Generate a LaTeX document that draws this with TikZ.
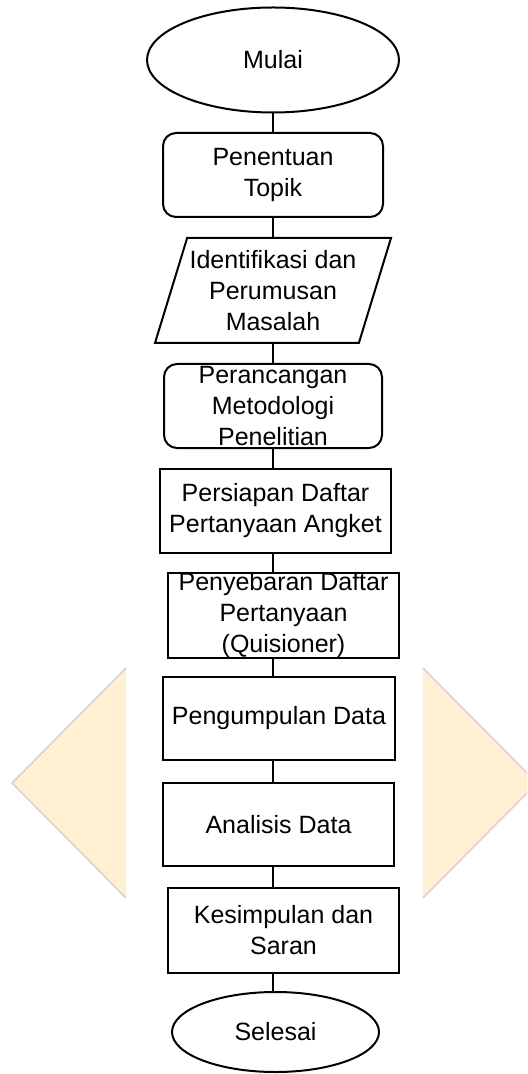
\documentclass[tikz,border=0pt]{standalone}
\usepackage{fontspec}
\setmainfont{Liberation Sans}
\usetikzlibrary{shapes.geometric}
\definecolor{wmfill}{RGB}{255,240,212}
\definecolor{wmedge}{RGB}{214,210,206}

\begin{document}
\begin{tikzpicture}[x = .5pt, y = -.5pt, line width = 1pt]
		\tikzstyle{every node} = [font = \fontsize{12.5}{15.5}\selectfont, align = center, inner sep = 0pt]
		\tikzstyle{terminal} = [draw, ellipse]
		\tikzstyle{roundbox} = [draw, rectangle, rounded corners = 6.5pt, minimum width = 110pt, minimum height = 42pt]
		\tikzstyle{plainbox} = [draw, rectangle, minimum width = 115.5pt, minimum height = 42pt]
		\tikzstyle{iobox} = [draw, trapezium, trapezium left angle = 68.2, trapezium right angle = 111.8, trapezium stretches body, minimum width = 118pt, minimum height = 52.5pt]

		\useasboundingbox (0,0) rectangle (527,1074);

		% watermark
		\begin{scope}
			\clip (0,0) rectangle (527,1074);
			\fill [wmfill] (126,668) -- (12,783) -- (126,898) -- cycle;
			\draw [wmedge, line width = .75pt] (126,668) -- (12,783) -- (126,898);
			\fill [wmfill] (423,668) -- (537,783) -- (423,898) -- cycle;
			\draw [wmedge, line width = .75pt] (423,668) -- (537,783) -- (423,898);
		\end{scope}

		\node [terminal, minimum width = 126pt, minimum height = 52.5pt] (mulai) at (273,60) {Mulai};
		\node [roundbox] (topik) at (273,175) {Penentuan\\Topik};
		\node [iobox] (masalah) at (273,290.5) {Identifikasi dan\\Perumusan\\Masalah};
		\node [roundbox, minimum width = 109pt] (metode) at (273,406) {Perancangan\\Metodologi\\Penelitian};
		\node [plainbox] (angket) at (275.5,511) {Persiapan Daftar\\Pertanyaan Angket};
		\node [plainbox, minimum height = 42.5pt] (sebar) at (283.5,615.5) {Penyebaran Daftar\\Pertanyaan\\(Quisioner)};
		\node [plainbox, minimum width = 116pt, minimum height = 41.5pt] (kumpul) at (279,718.5) {Pengumpulan Data};
		\node [plainbox, minimum height = 41.5pt] (analisis) at (278.5,824.5) {Analisis Data};
		\node [plainbox, minimum height = 42.5pt] (simpul) at (283.5,930.5) {Kesimpulan dan\\Saran};
		\node [terminal, minimum width = 103.5pt, minimum height = 40pt] (selesai) at (275.5,1032) {Selesai};

		\foreach \a/\b in {mulai/topik, topik/masalah, masalah/metode, metode/angket, angket/sebar, sebar/kumpul, kumpul/analisis, analisis/simpul, simpul/selesai}
		{
			\draw (\a.south -| mulai) -- (\b.north -| mulai); %\a to \b
		}
	\end{tikzpicture}
\end{document}
